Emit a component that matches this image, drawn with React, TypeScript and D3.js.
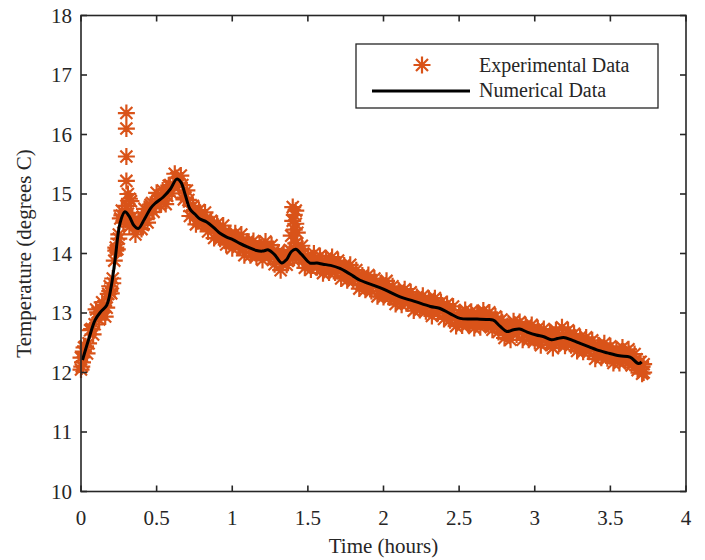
import React from "react";
import * as d3 from "d3";

// ---- Data ----
const xTicks = [0, 0.5, 1, 1.5, 2, 2.5, 3, 3.5, 4];
const yTicks = [10, 11, 12, 13, 14, 15, 16, 17, 18];

// Numerical model (time in hours, temperature in degrees C)
const numTime = [0.01, 0.05, 0.093, 0.13, 0.17, 0.2, 0.225, 0.258, 0.29, 0.32, 0.35, 0.379, 0.42, 0.46, 0.489, 0.544, 0.59, 0.633, 0.66, 0.69, 0.72, 0.754, 0.787, 0.831, 0.88, 0.919, 0.96, 1.007, 1.05, 1.1, 1.16, 1.2, 1.24, 1.28, 1.327, 1.36, 1.39, 1.42, 1.46, 1.514, 1.56, 1.6, 1.65, 1.712, 1.75, 1.8, 1.845, 1.93, 2.0, 2.11, 2.2, 2.31, 2.37, 2.44, 2.506, 2.6, 2.68, 2.726, 2.77, 2.815, 2.86, 2.9, 2.95, 3.01, 3.06, 3.11, 3.15, 3.19, 3.25, 3.3, 3.36, 3.41, 3.48, 3.56, 3.63, 3.685, 3.707];
const numTemp = [12.21, 12.55, 12.88, 13.02, 13.13, 13.45, 13.89, 14.51, 14.7, 14.62, 14.47, 14.42, 14.58, 14.76, 14.84, 14.95, 15.08, 15.25, 15.2, 14.98, 14.75, 14.66, 14.58, 14.53, 14.43, 14.34, 14.28, 14.23, 14.17, 14.11, 14.05, 14.04, 14.06, 13.98, 13.84, 13.9, 14.03, 14.07, 13.98, 13.84, 13.84, 13.82, 13.8, 13.75, 13.7, 13.62, 13.55, 13.47, 13.4, 13.27, 13.2, 13.11, 13.08, 12.99, 12.91, 12.9, 12.89, 12.88, 12.78, 12.69, 12.72, 12.73, 12.68, 12.63, 12.6, 12.55, 12.57, 12.59, 12.54, 12.49, 12.43, 12.38, 12.33, 12.28, 12.26, 12.15, 12.18];

// Experimental data, sampled every 0.02 h from t = 0
const expStep = 0.02;
const expTemp = [
  12.05, 12.42, 12.32, 12.71, 12.64, 13.06, 12.89, 13.18, 12.94, 13.32,
  13.33, 13.88, 14.07, 14.59, 14.52, 14.80, 14.45, 14.62, 14.32, 14.57,
  14.41, 14.75, 14.52, 14.82, 14.70, 15.02, 14.82, 15.06, 14.83, 15.14,
  15.01, 15.34, 15.18, 15.31, 14.91, 15.06, 14.63, 14.80, 14.49, 14.73,
  14.50, 14.69, 14.37, 14.55, 14.26, 14.50, 14.25, 14.47, 14.15, 14.31,
  14.09, 14.34, 14.11, 14.32, 13.97, 14.20, 13.97, 14.21, 13.95, 14.15,
  13.89, 14.20, 13.98, 14.14, 13.82, 14.02, 13.72, 14.00, 13.81, 14.06,
  13.91, 14.17, 13.91, 14.13, 13.76, 13.96, 13.73, 14.00, 13.77, 13.96,
  13.67, 13.92, 13.68, 13.94, 13.68, 13.88, 13.58, 13.80, 13.55, 13.81,
  13.54, 13.72, 13.41, 13.63, 13.39, 13.64, 13.37, 13.58, 13.28, 13.50,
  13.27, 13.54, 13.26, 13.45, 13.15, 13.38, 13.14, 13.40, 13.16, 13.35,
  13.04, 13.27, 13.05, 13.29, 13.03, 13.24, 12.95, 13.25, 13.00, 13.18,
  12.90, 13.15, 12.88, 13.11, 12.78, 13.00, 12.79, 13.05, 12.81, 13.02,
  12.75, 13.00, 12.76, 13.04, 12.81, 13.01, 12.72, 12.94, 12.68, 12.89,
  12.58, 12.78, 12.55, 12.86, 12.64, 12.85, 12.55, 12.79, 12.55, 12.80,
  12.53, 12.74, 12.46, 12.73, 12.50, 12.67, 12.41, 12.71, 12.48, 12.76,
  12.45, 12.71, 12.46, 12.65, 12.36, 12.59, 12.35, 12.59, 12.35, 12.54,
  12.23, 12.46, 12.25, 12.49, 12.24, 12.44, 12.16, 12.39, 12.16, 12.42,
  12.19, 12.39, 12.12, 12.31, 12.04, 12.18, 12.00,
];

// Interleaved experimental samples at t = 0.01 + 0.02 k
const exp2Start = 0.01;
const expTemp2 = [
  12.17, 12.44, 12.49, 12.73, 12.81, 13.01, 13.00, 13.12, 13.09, 13.37,
  13.58, 14.05, 14.32, 14.64, 14.61, 14.67, 14.53, 14.56, 14.42, 14.51,
  14.48, 14.66, 14.68, 14.85, 14.82, 14.92, 14.85, 15.00, 14.97, 15.15,
  15.13, 15.27, 15.17, 15.15, 14.94, 14.90, 14.71, 14.73, 14.57, 14.61,
  14.51, 14.59, 14.47, 14.49, 14.34, 14.39, 14.28, 14.36, 14.24, 14.29,
  14.17, 14.22, 14.13, 14.22, 14.10, 14.15, 14.02, 14.09, 14.01, 14.10,
  14.03, 14.10, 13.97, 14.03, 13.90, 13.95, 13.83, 13.92, 13.88, 14.04,
  14.02, 14.12, 13.99, 14.00, 13.84, 13.89, 13.80, 13.90, 13.82, 13.87,
  13.75, 13.84, 13.75, 13.84, 13.74, 13.79, 13.67, 13.72, 13.63, 13.71,
  13.59, 13.63, 13.49, 13.55, 13.46, 13.54, 13.45, 13.49, 13.36, 13.44,
  13.34, 13.43, 13.31, 13.36, 13.23, 13.29, 13.22, 13.31, 13.21, 13.26,
  13.13, 13.21, 13.12, 13.20, 13.11, 13.15, 13.03, 13.12, 13.03, 13.12,
  13.00, 13.05, 12.92, 12.97, 12.89, 12.98, 12.89, 12.96, 12.84, 12.93,
  12.86, 12.96, 12.87, 12.93, 12.82, 12.92, 12.81, 12.88, 12.75, 12.78,
  12.65, 12.72, 12.67, 12.80, 12.71, 12.77, 12.64, 12.71, 12.62, 12.70,
  12.61, 12.66, 12.54, 12.62, 12.52, 12.62, 12.53, 12.61, 12.53, 12.61,
  12.54, 12.63, 12.52, 12.57, 12.44, 12.51, 12.42, 12.50, 12.40, 12.44,
  12.31, 12.40, 12.30, 12.40, 12.30, 12.35, 12.24, 12.31, 12.24, 12.35,
  12.25, 12.31, 12.17, 12.22, 12.09, 12.10,
];

// Extra experimental samples (steep rise, sensor spikes, start/end)
const expExtraTime = [0.0, 0.005, 0.015, 0.19, 0.21, 0.23, 0.25, 0.27, 0.3, 0.3, 0.3, 0.3, 0.31, 0.32, 0.33, 1.39, 1.4, 1.4, 1.41, 1.41, 1.42, 1.42, 1.43, 3.71, 3.72];
const expExtraTemp = [12.25, 12.1, 12.35, 13.45, 13.5, 14.1, 14.25, 14.72, 16.36, 16.1, 15.63, 15.22, 15.0, 14.92, 14.88, 14.3, 14.55, 14.78, 14.65, 14.4, 14.72, 14.5, 14.35, 11.98, 12.14];

const legendLabels = ["Experimental Data", "Numerical Data"];

// ---- Layout ----
const W = 705;
const H = 560;
const plot = { left: 81, right: 686, top: 15.5, bottom: 491.5 };
const ORANGE = "#D95319";
const AXIS = "#262626";
const FONT = "'Liberation Serif', 'Times New Roman', serif";

function asteriskPath(x: number, y: number, r: number) {
  const d = r * Math.SQRT1_2;
  return `M${x - r},${y}L${x + r},${y}M${x},${y - r}L${x},${y + r}M${x - d},${y - d}L${x + d},${y + d}M${x - d},${y + d}L${x + d},${y - d}`;
}

export default function App() {
  const x = d3.scaleLinear().domain([0, 4]).range([plot.left, plot.right]);
  const y = d3.scaleLinear().domain([10, 18]).range([plot.bottom, plot.top]);

  const expPts: [number, number][] = expTemp.map((v, i) => [i * expStep, v]);
  expTemp2.forEach((v, i) => expPts.push([exp2Start + i * expStep, v]));
  expExtraTime.forEach((t, i) => expPts.push([t, expExtraTemp[i]]));

  const numPts: [number, number][] = numTime.map((t, i) => [t, numTemp[i]]);
  const line = d3
    .line<[number, number]>()
    .x((d) => x(d[0]))
    .y((d) => y(d[1]))
    .curve(d3.curveCatmullRom.alpha(0.5));

  const fmt = d3.format("~g");
  const tickLen = 6;
  const mr = 8.5;
  const markerD = expPts.map((p) => asteriskPath(x(p[0]), y(p[1]), mr)).join("");

  return (
    <svg width={W} height={H} style={{ position: "absolute", left: 0, top: 0 }} fontFamily={FONT}>
      <rect x={0} y={0} width={W} height={H} fill="#fff" />
      {/* experimental markers */}
      <path d={markerD} stroke={ORANGE} strokeWidth={2.2} fill="none" />
      {/* numerical line */}
      <path d={line(numPts) ?? ""} fill="none" stroke="#000" strokeWidth={3} strokeLinejoin="round" />

      {/* axes box */}
      <rect
        x={plot.left}
        y={plot.top}
        width={plot.right - plot.left}
        height={plot.bottom - plot.top}
        fill="none"
        stroke={AXIS}
        strokeWidth={1.6}
      />
      {xTicks.map((t) => (
        <g key={"x" + t}>
          <line x1={x(t)} x2={x(t)} y1={plot.bottom} y2={plot.bottom - tickLen} stroke={AXIS} strokeWidth={1.6} />
          <line x1={x(t)} x2={x(t)} y1={plot.top} y2={plot.top + tickLen} stroke={AXIS} strokeWidth={1.6} />
          <text x={x(t)} y={plot.bottom + 33} textAnchor="middle" fontSize={21} fill={AXIS}>
            {fmt(t)}
          </text>
        </g>
      ))}
      {yTicks.map((t) => (
        <g key={"y" + t}>
          <line x1={plot.left} x2={plot.left + tickLen} y1={y(t)} y2={y(t)} stroke={AXIS} strokeWidth={1.6} />
          <line x1={plot.right} x2={plot.right - tickLen} y1={y(t)} y2={y(t)} stroke={AXIS} strokeWidth={1.6} />
          <text x={plot.left - 9} y={y(t)} dy="0.35em" textAnchor="end" fontSize={21} fill={AXIS}>
            {fmt(t)}
          </text>
        </g>
      ))}
      <text x={(plot.left + plot.right) / 2} y={553} textAnchor="middle" fontSize={21} fill={AXIS}>
        Time (hours)
      </text>
      <text
        transform={`translate(31,${(plot.top + plot.bottom) / 2}) rotate(-90)`}
        textAnchor="middle"
        fontSize={21}
        fill={AXIS}
      >
        Temperature (degrees C)
      </text>

      {/* legend */}
      <g>
        <rect x={356} y={44} width={302} height={64} fill="#fff" stroke={AXIS} strokeWidth={1.3} />
        <path d={asteriskPath(422, 65, mr)} stroke={ORANGE} strokeWidth={2.2} fill="none" />
        <line x1={372} x2={470} y1={91} y2={91} stroke="#000" strokeWidth={3} />
        <text x={479} y={72} fontSize={20} fill={AXIS}>
          {legendLabels[0]}
        </text>
        <text x={479} y={97} fontSize={20} fill={AXIS}>
          {legendLabels[1]}
        </text>
      </g>
    </svg>
  );
}
